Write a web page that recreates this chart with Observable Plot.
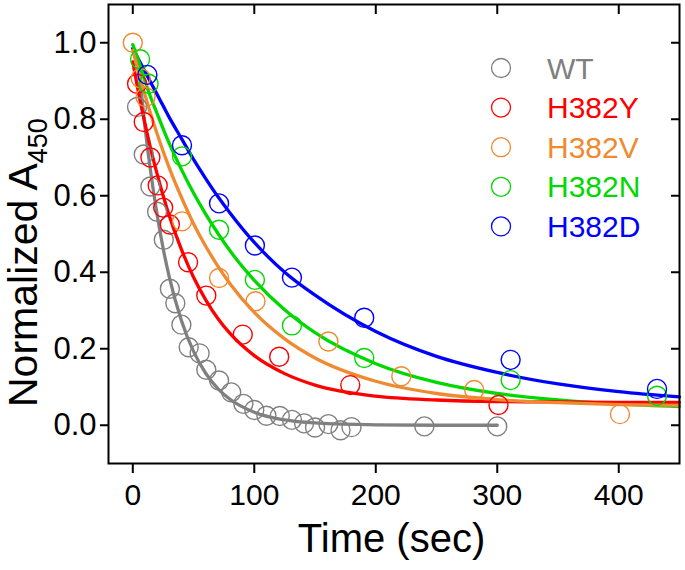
<!DOCTYPE html>
<html>
<head>
<meta charset="utf-8">
<script src="https://cdn.jsdelivr.net/npm/d3@7"></script>
<script src="https://cdn.jsdelivr.net/npm/@observablehq/plot@0.6"></script>
<style>
  html, body { margin: 0; padding: 0; background: #ffffff; }
</style>
</head>
<body>
<div id="chart"></div>
<script>
// ---------- data ----------
const seriesNames  = ["WT", "H382Y", "H382V", "H382N", "H382D"];
const seriesColors = ["#808080", "#FF0000", "#F08A30", "#00D800", "#0000FF"];

// measured points (time in sec, normalized A450)
const wtTime    = [3.5, 9, 14.5, 20, 25.5, 30.5, 35, 40, 46, 55, 60.5, 71, 81, 91, 100, 110, 121, 131, 141, 150, 161, 171, 180, 240, 300];
const wtValue   = [0.832, 0.708, 0.624, 0.558, 0.485, 0.357, 0.319, 0.263, 0.204, 0.188, 0.145, 0.117, 0.086, 0.056, 0.040, 0.025, 0.024, 0.014, 0.005, -0.006, 0.003, -0.013, -0.005, -0.003, -0.003];

const h382yTime  = [3.5, 9, 14.5, 20.5, 25, 30.5, 45.5, 60.5, 90.5, 120.5, 179, 301];
const h382yValue = [0.893, 0.793, 0.700, 0.627, 0.569, 0.525, 0.426, 0.339, 0.237, 0.179, 0.105, 0.053];

const h382vTime  = [0, 6.5, 10.5, 40.5, 71, 101, 161, 221, 281, 401];
const h382vValue = [1.000, 0.907, 0.858, 0.533, 0.385, 0.324, 0.219, 0.128, 0.092, 0.029];

const h382nTime  = [6, 13, 40.5, 71, 100.5, 131, 190.5, 311, 431.5];
const h382nValue = [0.957, 0.893, 0.703, 0.511, 0.380, 0.261, 0.176, 0.118, 0.077];

const h382dTime  = [12, 40.5, 71, 100.5, 131, 190.5, 311, 431.5];
const h382dValue = [0.916, 0.732, 0.580, 0.470, 0.386, 0.281, 0.171, 0.095];

// fitted curves at these times
const fitTime   = [0, 5, 10, 15, 20, 25, 30, 40, 50, 60, 70, 80, 100, 125, 150, 200, 250, 300, 350, 400, 450];
const wtFitTime = [5, 10, 15, 20, 25, 30, 40, 50, 60, 70, 80, 100, 125, 150, 200, 250, 300];
const wtFit     = [0.930, 0.781, 0.656, 0.551, 0.462, 0.388, 0.274, 0.193, 0.136, 0.096, 0.068, 0.034, 0.014, 0.006, 0.001, 0.000, 0.000];
const h382yFit  = [0.950, 0.865, 0.789, 0.719, 0.657, 0.600, 0.548, 0.460, 0.387, 0.328, 0.279, 0.240, 0.182, 0.135, 0.105, 0.076, 0.066, 0.062, 0.061, 0.060, 0.060];
const h382vFit  = [0.980, 0.920, 0.864, 0.811, 0.762, 0.716, 0.673, 0.596, 0.527, 0.468, 0.416, 0.370, 0.295, 0.226, 0.176, 0.115, 0.083, 0.067, 0.059, 0.054, 0.052];
const h382nFit  = [0.995, 0.950, 0.900, 0.855, 0.815, 0.775, 0.737, 0.669, 0.607, 0.552, 0.502, 0.456, 0.379, 0.302, 0.242, 0.161, 0.112, 0.083, 0.066, 0.055, 0.049];
const h382dFit  = [0.985, 0.955, 0.925, 0.895, 0.865, 0.835, 0.805, 0.750, 0.695, 0.645, 0.598, 0.555, 0.478, 0.400, 0.340, 0.245, 0.180, 0.138, 0.108, 0.088, 0.074];

const xTicks = [0, 100, 200, 300, 400];
const yTicks = [0.0, 0.2, 0.4, 0.6, 0.8, 1.0];
const xTitle = "Time (sec)";
const yTitleMain = "Normalized A";
const yTitleSub = "450";

// ---------- tables built from the arrays ----------
const pointSets = [
  ["WT", wtTime, wtValue],
  ["H382Y", h382yTime, h382yValue],
  ["H382V", h382vTime, h382vValue],
  ["H382N", h382nTime, h382nValue],
  ["H382D", h382dTime, h382dValue]
];
const points = pointSets.flatMap(([s, ts, vs]) => ts.map((t, i) => ({series: s, t, v: vs[i]})));

// drawing order of fit lines (back to front)
const fitSets = [
  ["WT", wtFitTime, wtFit],
  ["H382D", fitTime, h382dFit],
  ["H382N", fitTime, h382nFit],
  ["H382Y", fitTime, h382yFit],
  ["H382V", fitTime, h382vFit]
];
const fits = fitSets.flatMap(([s, ts, vs]) => ts.map((t, i) => ({series: s, t, v: vs[i]})));

const font = '"Liberation Sans", Arial, Helvetica, sans-serif';

const chart = Plot.plot({
  width: 685,
  height: 570,
  marginLeft: 108,
  marginRight: 6,
  marginTop: 4,
  marginBottom: 107,
  style: {fontFamily: font, background: "#ffffff", color: "#000000", overflow: "visible"},
  x: {domain: [-20, 450]},
  y: {domain: [-0.1, 1.1]},
  color: {domain: seriesNames, range: seriesColors},
  marks: [
    Plot.line(fits, {x: "t", y: "v", z: "series", stroke: "series", strokeWidth: 3.3, curve: "monotone-x"}),
    Plot.dot(points, {x: "t", y: "v", stroke: "series", fill: "none", r: 9.5, strokeWidth: 1.4}),
    Plot.axisX({ticks: xTicks, tickSize: 10, tickPadding: 10, fontSize: 30, strokeWidth: 2, label: null}),
    Plot.axisX({anchor: "top", ticks: xTicks, tickSize: 9, dy: 9, fill: "none", strokeWidth: 2, label: null}),
    Plot.axisY({ticks: yTicks, tickSize: 8, tickPadding: 4, fontSize: 31, strokeWidth: 2, tickFormat: d3.format(".1f"), label: null}),
    Plot.axisY({anchor: "right", ticks: yTicks, tickSize: 9, dx: -9, fill: "none", strokeWidth: 2, label: null}),
    Plot.frame({stroke: "#000000", strokeWidth: 2})
  ]
});

document.getElementById("chart").appendChild(chart);

// ---------- titles and legend ----------
const svg = d3.select(chart);
const xr = chart.scale("x").range;
const yr = chart.scale("y").range;

svg.append("text")
  .attr("x", (xr[0] + xr[1]) / 2 - 2)
  .attr("y", yr[0] + 89)
  .attr("text-anchor", "middle")
  .attr("font-size", 40)
  .attr("fill", "#000000")
  .text(xTitle);

const yt = svg.append("text")
  .attr("transform", `translate(37, ${yr[0] - 56}) rotate(-90)`)
  .attr("text-anchor", "start")
  .attr("font-size", 41)
  .attr("fill", "#000000");
yt.append("tspan").text(yTitleMain);
yt.append("tspan").attr("font-size", 27).attr("dy", 10).text(yTitleSub);

const legend = svg.append("g").attr("transform", `translate(${xr[1] - 178}, 68)`);
seriesNames.forEach((name, i) => {
  const g = legend.append("g").attr("transform", `translate(0, ${i * 39.6})`);
  g.append("circle").attr("cx", 0).attr("cy", 0).attr("r", 9.5)
    .attr("fill", "none").attr("stroke", seriesColors[i]).attr("stroke-width", 1.3);
  g.append("text").attr("x", 46).attr("y", 0).attr("dy", "0.35em")
    .attr("text-anchor", "start")
    .attr("font-size", 30).attr("fill", seriesColors[i]).text(name);
});
</script>
</body>
</html>
